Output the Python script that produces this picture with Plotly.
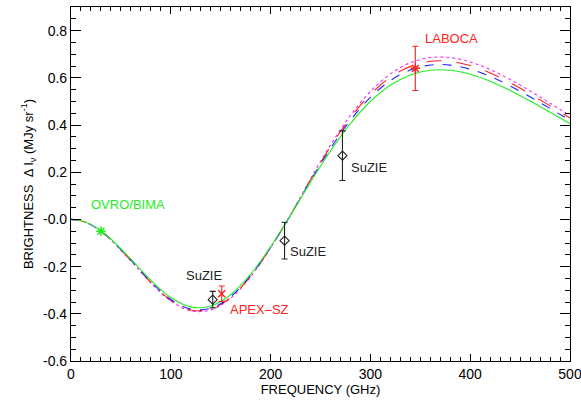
import plotly.graph_objects as go

# Frequency grid (GHz) for the model spectra
freq = [0, 10, 20, 30, 40, 60, 80, 100, 120, 140, 160, 180, 200,
        220, 240, 260, 280, 300, 320, 340, 360, 380, 400, 420, 440, 460, 480, 500]

# Model SZ brightness spectra (MJy/sr)
model_solid = [0, -0.0056, -0.0221, -0.0485, -0.0831, -0.1684, -0.2578, -0.3308, -0.3706,
               -0.3673, -0.3194, -0.2322, -0.1157, 0.0178, 0.158, 0.2904, 0.4061, 0.4995,
               0.5681, 0.6117, 0.6320, 0.6318, 0.6150, 0.5853, 0.5464, 0.5017, 0.4538, 0.4053]
model_dash = [0, -0.0057, -0.0227, -0.0497, -0.0852, -0.1726, -0.2642, -0.3391, -0.3799,
              -0.3765, -0.3274, -0.2380, -0.1186, 0.0184, 0.1635, 0.3006, 0.4203, 0.5170,
              0.5880, 0.6331, 0.6541, 0.6539, 0.6365, 0.6058, 0.5655, 0.5193, 0.4697, 0.4195]
model_longdash = [0, -0.0058, -0.0229, -0.0502, -0.0860, -0.1743, -0.2668, -0.3424, -0.3836,
                  -0.3802, -0.3306, -0.2403, -0.1197, 0.0189, 0.1675, 0.3078, 0.4305, 0.5295,
                  0.6022, 0.6484, 0.6699, 0.6697, 0.6519, 0.6204, 0.5792, 0.5318, 0.4810, 0.4296]
model_dot = [0, -0.0059, -0.0231, -0.0507, -0.0868, -0.1760, -0.2694, -0.3457, -0.3873,
             -0.3838, -0.3338, -0.2426, -0.1209, 0.0193, 0.1714, 0.3151, 0.4406, 0.5420,
             0.6164, 0.6637, 0.6857, 0.6855, 0.6673, 0.6350, 0.5928, 0.5444, 0.4924, 0.4398]

# Measurements
ovro_freq, ovro_val = [30], [-0.05]
suzie_freq = [142, 214, 272]
suzie_val = [-0.34, -0.09, 0.27]
suzie_err = [0.035, 0.078, 0.105]
apex_freq, apex_val, apex_err = [151], [-0.315], [0.033]
laboca_freq, laboca_val, laboca_err = [345], [0.64], [0.094]

y_ticks = [-0.6, -0.4, -0.2, 0.0, 0.2, 0.4, 0.6, 0.8]
y_ticktext = ["-0.6", "-0.4", "-0.2", "-0.0", "0.2", "0.4", "0.6", "0.8"]
x_ticks = [0, 100, 200, 300, 400, 500]

GREEN = "#22ee22"
RED = "#ff2222"
BLUE = "#2222ff"
MAGENTA = "#ff22ff"
BLACK = "#222222"

fig = go.Figure()

for vals, color, dash in [(model_dot, MAGENTA, "dot"),
                          (model_longdash, RED, "longdash"),
                          (model_dash, BLUE, "dash"),
                          (model_solid, GREEN, "solid")]:
    fig.add_trace(go.Scatter(x=freq, y=vals, mode="lines", line_shape="spline",
                             line=dict(color=color, width=1.1, dash=dash),
                             showlegend=False))

fig.add_trace(go.Scatter(x=ovro_freq, y=ovro_val, mode="markers",
                         marker=dict(symbol="asterisk-open", size=8, color=GREEN,
                                     line=dict(color=GREEN, width=1.5)),
                         showlegend=False))
fig.add_trace(go.Scatter(x=suzie_freq, y=suzie_val, mode="markers",
                         error_y=dict(type="data", array=suzie_err, color=BLACK,
                                      thickness=1.1, width=3),
                         marker=dict(symbol="diamond-open", size=7, color=BLACK,
                                     line=dict(color=BLACK, width=1.1)),
                         showlegend=False))
fig.add_trace(go.Scatter(x=apex_freq, y=apex_val, mode="markers",
                         error_y=dict(type="data", array=apex_err, color=RED,
                                      thickness=1.1, width=3),
                         marker=dict(symbol="x-thin-open", size=7, color=RED,
                                     line=dict(color=RED, width=1.5)),
                         showlegend=False))
fig.add_trace(go.Scatter(x=laboca_freq, y=laboca_val, mode="markers",
                         error_y=dict(type="data", array=laboca_err, color=RED,
                                      thickness=1.1, width=3),
                         marker=dict(symbol="asterisk-open", size=8, color=RED,
                                     line=dict(color=RED, width=1.5)),
                         showlegend=False))

labels = [
    ("OVRO/BIMA", 18, 0.062, GREEN),
    ("SuZIE", 113, -0.236, BLACK),
    ("SuZIE", 217, -0.135, BLACK),
    ("SuZIE", 279, 0.218, BLACK),
    ("APEX–SZ", 157, -0.382, RED),
    ("LABOCA", 353, 0.767, RED),
]
for text, x, y, color in labels:
    fig.add_annotation(x=x, y=y, text=text, showarrow=False, xanchor="left",
                       yanchor="middle", font=dict(color=color, size=13))

axis_common = dict(showline=True, linecolor="black", linewidth=1.2, mirror="allticks",
                   ticks="inside", tickcolor="black", showgrid=False, zeroline=False,
                   tickfont=dict(size=14, color="black"), ticklabeloverflow="allow",
                   automargin=False)

fig.update_xaxes(range=[0, 500], tickvals=x_ticks, ticklen=7, tickwidth=1,
                 minor=dict(dtick=10, tick0=0, ticklen=4, ticks="inside", tickcolor="black"),
                 title=dict(text="FREQUENCY (GHz)", font=dict(size=13, color="black"),
                            standoff=2),
                 **axis_common)
fig.update_yaxes(range=[-0.6, 0.9], tickvals=y_ticks, ticktext=y_ticktext,
                 ticklen=10, tickwidth=1,
                 minor=dict(dtick=0.05, tick0=0, ticklen=5, ticks="inside", tickcolor="black"),
                 title=dict(text="BRIGHTNESS  Δ I<sub>ν</sub> (MJy sr<sup>-1</sup>)",
                            font=dict(size=13, color="black"), standoff=6),
                 **axis_common)

fig.update_layout(width=581, height=403, margin=dict(l=71, r=11, t=7, b=42),
                  paper_bgcolor="white", plot_bgcolor="white",
                  font=dict(family="Liberation Sans, Arial, sans-serif", color="black"))

fig.write_html("out.html")
